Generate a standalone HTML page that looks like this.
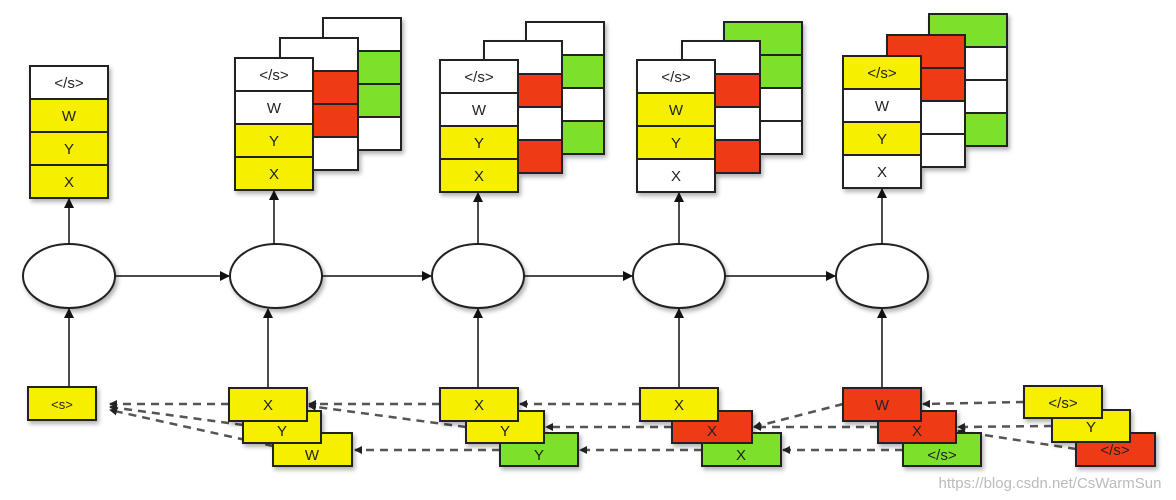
<!DOCTYPE html>
<html><head><meta charset="utf-8"><style>body{margin:0;background:#fff}svg{display:block}text{font-family:"Liberation Sans",sans-serif;font-size:15px;fill:#222;text-anchor:middle}</style></head>
<body>
<svg width="1176" height="500" viewBox="0 0 1176 500" xmlns="http://www.w3.org/2000/svg">
<defs>
<marker id="a" markerWidth="10" markerHeight="10" refX="9" refY="5" orient="auto" markerUnits="userSpaceOnUse"><path d="M0,0 L10,5 L0,10z" fill="#111"/></marker>
<marker id="s" markerWidth="8" markerHeight="8" refX="7" refY="4" orient="auto" markerUnits="userSpaceOnUse"><path d="M0,0 L8,4 L0,8z" fill="#222"/></marker>
<filter id="sh" x="-10%" y="-10%" width="130%" height="130%"><feDropShadow dx="2" dy="3" stdDeviation="2" flood-color="#000" flood-opacity="0.3"/></filter>
</defs>
<g stroke="#222" stroke-width="2" filter="url(#sh)">
<!-- Stack 1 -->
<rect x="30" y="66" width="78" height="33" fill="#fff"/><rect x="30" y="99" width="78" height="33" fill="#f6f000"/><rect x="30" y="132" width="78" height="33" fill="#f6f000"/><rect x="30" y="165" width="78" height="33" fill="#f6f000"/>
<!-- Stack 2 -->
<rect x="323" y="18" width="78" height="33" fill="#fff"/><rect x="323" y="51" width="78" height="33" fill="#7de02a"/><rect x="323" y="84" width="78" height="33" fill="#7de02a"/><rect x="323" y="117" width="78" height="33" fill="#fff"/>
<rect x="280" y="38" width="78" height="33" fill="#fff"/><rect x="280" y="71" width="78" height="33" fill="#ee3a16"/><rect x="280" y="104" width="78" height="33" fill="#ee3a16"/><rect x="280" y="137" width="78" height="33" fill="#fff"/>
<rect x="235" y="58" width="78" height="33" fill="#fff"/><rect x="235" y="91" width="78" height="33" fill="#fff"/><rect x="235" y="124" width="78" height="33" fill="#f6f000"/><rect x="235" y="157" width="78" height="33" fill="#f6f000"/>
<!-- Stack 3 -->
<rect x="526" y="22" width="78" height="33" fill="#fff"/><rect x="526" y="55" width="78" height="33" fill="#7de02a"/><rect x="526" y="88" width="78" height="33" fill="#fff"/><rect x="526" y="121" width="78" height="33" fill="#7de02a"/>
<rect x="484" y="41" width="78" height="33" fill="#fff"/><rect x="484" y="74" width="78" height="33" fill="#ee3a16"/><rect x="484" y="107" width="78" height="33" fill="#fff"/><rect x="484" y="140" width="78" height="33" fill="#ee3a16"/>
<rect x="440" y="60" width="78" height="33" fill="#fff"/><rect x="440" y="93" width="78" height="33" fill="#fff"/><rect x="440" y="126" width="78" height="33" fill="#f6f000"/><rect x="440" y="159" width="78" height="33" fill="#f6f000"/>
<!-- Stack 4 -->
<rect x="724" y="22" width="78" height="33" fill="#7de02a"/><rect x="724" y="55" width="78" height="33" fill="#7de02a"/><rect x="724" y="88" width="78" height="33" fill="#fff"/><rect x="724" y="121" width="78" height="33" fill="#fff"/>
<rect x="682" y="41" width="78" height="33" fill="#fff"/><rect x="682" y="74" width="78" height="33" fill="#ee3a16"/><rect x="682" y="107" width="78" height="33" fill="#fff"/><rect x="682" y="140" width="78" height="33" fill="#ee3a16"/>
<rect x="637" y="60" width="78" height="33" fill="#fff"/><rect x="637" y="93" width="78" height="33" fill="#f6f000"/><rect x="637" y="126" width="78" height="33" fill="#f6f000"/><rect x="637" y="159" width="78" height="33" fill="#fff"/>
<!-- Stack 5 -->
<rect x="929" y="14" width="78" height="33" fill="#7de02a"/><rect x="929" y="47" width="78" height="33" fill="#fff"/><rect x="929" y="80" width="78" height="33" fill="#fff"/><rect x="929" y="113" width="78" height="33" fill="#7de02a"/>
<rect x="887" y="35" width="78" height="33" fill="#ee3a16"/><rect x="887" y="68" width="78" height="33" fill="#ee3a16"/><rect x="887" y="101" width="78" height="33" fill="#fff"/><rect x="887" y="134" width="78" height="33" fill="#fff"/>
<rect x="843" y="56" width="78" height="33" fill="#f6f000"/><rect x="843" y="89" width="78" height="33" fill="#fff"/><rect x="843" y="122" width="78" height="33" fill="#f6f000"/><rect x="843" y="155" width="78" height="33" fill="#fff"/>
</g>
<g>
<text x="69" y="88">&lt;/s&gt;</text><text x="69" y="121">W</text><text x="69" y="154">Y</text><text x="69" y="187">X</text>
<text x="274" y="80">&lt;/s&gt;</text><text x="274" y="113">W</text><text x="274" y="146">Y</text><text x="274" y="179">X</text>
<text x="479" y="82">&lt;/s&gt;</text><text x="479" y="115">W</text><text x="479" y="148">Y</text><text x="479" y="181">X</text>
<text x="676" y="82">&lt;/s&gt;</text><text x="676" y="115">W</text><text x="676" y="148">Y</text><text x="676" y="181">X</text>
<text x="882" y="78">&lt;/s&gt;</text><text x="882" y="111">W</text><text x="882" y="144">Y</text><text x="882" y="177">X</text>
</g>
<!-- ellipses -->
<g stroke="#222" stroke-width="2" fill="#fff" filter="url(#sh)">
<ellipse cx="69" cy="276" rx="46" ry="32"/><ellipse cx="276" cy="276" rx="46" ry="32"/><ellipse cx="478" cy="276" rx="46" ry="32"/><ellipse cx="679" cy="276" rx="46" ry="32"/><ellipse cx="882" cy="276" rx="46" ry="32"/>
</g>
<g stroke="#111" stroke-width="1.5" marker-end="url(#a)">
<line x1="115" y1="276" x2="229" y2="276"/><line x1="322" y1="276" x2="431" y2="276"/><line x1="524" y1="276" x2="632" y2="276"/><line x1="725" y1="276" x2="835" y2="276"/>
<line x1="69" y1="244" x2="69" y2="199"/><line x1="274" y1="244" x2="274" y2="191"/><line x1="478" y1="244" x2="478" y2="193"/><line x1="679" y1="244" x2="679" y2="193"/><line x1="882" y1="244" x2="882" y2="189"/>
<line x1="69" y1="387" x2="69" y2="309"/><line x1="268" y1="387" x2="268" y2="309"/><line x1="478" y1="387" x2="478" y2="309"/><line x1="679" y1="387" x2="679" y2="309"/><line x1="882" y1="387" x2="882" y2="309"/>
</g>
<!-- dashed -->
<g stroke="#555" stroke-width="2.5" stroke-dasharray="8,6" fill="none" marker-end="url(#s)">
<line x1="229" y1="404" x2="110" y2="404"/><line x1="243" y1="425" x2="110" y2="407"/><line x1="273" y1="446" x2="110" y2="410"/>
<line x1="440" y1="404" x2="309" y2="404"/><line x1="466" y1="427" x2="309" y2="406"/><line x1="500" y1="450" x2="355" y2="450"/>
<line x1="640" y1="404" x2="520" y2="404"/><line x1="672" y1="427" x2="546" y2="427"/><line x1="702" y1="450" x2="580" y2="450"/>
<line x1="843" y1="404" x2="754" y2="427"/><line x1="878" y1="427" x2="754" y2="427"/><line x1="903" y1="450" x2="783" y2="450"/>
<line x1="1024" y1="402" x2="923" y2="404"/><line x1="1052" y1="426" x2="958" y2="427"/><line x1="1076" y1="449" x2="958" y2="431"/>
</g>
<!-- bottom boxes -->
<g stroke="#222" stroke-width="2" filter="url(#sh)">
<rect x="28" y="387" width="68" height="33" fill="#f6f000"/>
<rect x="273" y="433" width="79" height="33" fill="#f6f000"/><rect x="243" y="411" width="78" height="32" fill="#f6f000"/><rect x="229" y="388" width="78" height="33" fill="#f6f000"/>
<rect x="500" y="433" width="78" height="33" fill="#7de02a"/><rect x="466" y="411" width="78" height="32" fill="#f6f000"/><rect x="440" y="388" width="78" height="33" fill="#f6f000"/>
<rect x="702" y="433" width="79" height="33" fill="#7de02a"/><rect x="672" y="411" width="80" height="32" fill="#ee3a16"/><rect x="640" y="388" width="78" height="33" fill="#f6f000"/>
<rect x="903" y="433" width="78" height="33" fill="#7de02a"/><rect x="878" y="411" width="78" height="32" fill="#ee3a16"/><rect x="843" y="388" width="78" height="33" fill="#ee3a16"/>
<rect x="1076" y="433" width="79" height="33" fill="#ee3a16"/><rect x="1052" y="410" width="78" height="32" fill="#f6f000"/><rect x="1024" y="386" width="78" height="32" fill="#f6f000"/>
</g>
<g>
<text x="62" y="409" style="font-size:13px">&lt;s&gt;</text>
<text x="312" y="460">W</text><text x="282" y="436">Y</text><text x="268" y="410">X</text>
<text x="539" y="460">Y</text><text x="505" y="436">Y</text><text x="479" y="410">X</text>
<text x="741" y="460">X</text><text x="712" y="436">X</text><text x="679" y="410">X</text>
<text x="942" y="460">&lt;/s&gt;</text><text x="917" y="436">X</text><text x="882" y="410">W</text>
<text x="1115" y="455">&lt;/s&gt;</text><text x="1091" y="432">Y</text><text x="1063" y="408">&lt;/s&gt;</text>
</g>
<text x="1050" y="488" style="font-size:15px;fill:#bbb">https://blog.csdn.net/CsWarmSun</text>
</svg>
</body></html>
